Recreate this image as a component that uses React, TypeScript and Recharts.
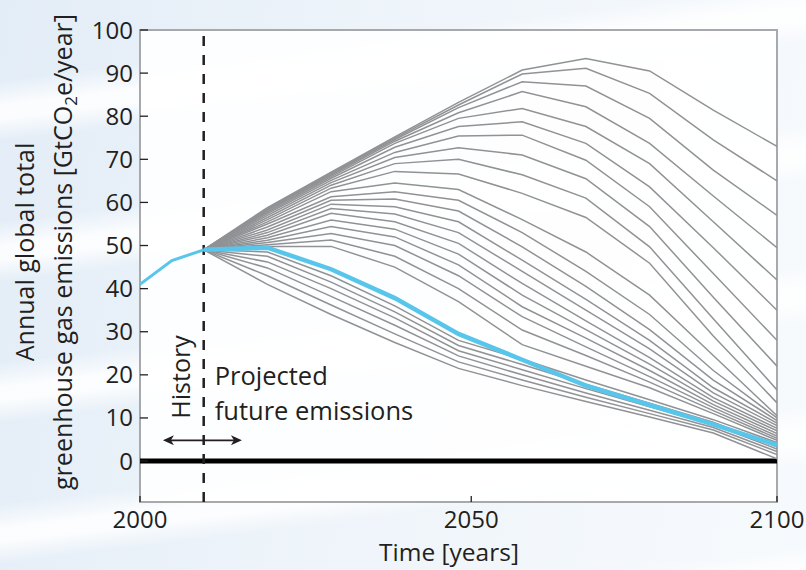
import React from 'react';
import { LineChart, Line, XAxis, YAxis, ReferenceLine, ReferenceArea } from 'recharts';

const historyYears = [2000, 2005, 2010];
const historyValues = [41, 46.5, 49];
const projectionYears = [2010, 2020, 2030, 2040, 2050, 2060, 2070, 2080, 2090, 2100];
const highlightedScenario = [49, 49.5, 44.5, 37.8, 29.5, 23.5, 17.5, 13, 8.5, 3.7];
const grayScenarios = [
  [49, 58.8, 67, 75.2, 83.2, 90.7, 93.4, 90.5, 81.4, 73],
  [49, 58.6, 66.8, 74.9, 82.6, 89.8, 91.1, 85.3, 74.5, 65],
  [49, 58.4, 66.6, 74.6, 82, 88, 87, 79.5, 67.5, 57],
  [49, 58.2, 66.3, 74.2, 80.8, 85.7, 82.2, 73.7, 61.5, 49.5],
  [49, 58, 66, 73.7, 79.5, 81.8, 77.6, 69, 55.5, 42],
  [49, 57.7, 65.6, 72.8, 77.6, 78.7, 73.7, 63.6, 49.5, 35],
  [49, 57.4, 65.1, 71.6, 75.4, 75.6, 69.8, 59, 43.5, 28],
  [49, 57, 64.6, 70.4, 72.7, 71, 65.5, 54.4, 38, 22],
  [49, 56.5, 64, 69, 70, 66.4, 61, 49.7, 33, 16.5],
  [49, 56, 63.3, 67.2, 66.6, 62.1, 56.5, 45.9, 29, 13.5],
  [49, 55.5, 62.5, 64.5, 63, 56, 48.5, 38.5, 24.5, 10.5],
  [49, 55, 61.3, 62.5, 60.5, 53, 44, 34, 21, 10],
  [49, 54.3, 60.5, 60.8, 58, 49.7, 40.5, 30.5, 18.8, 9.4],
  [49, 53.6, 59.6, 59, 55.5, 46.6, 37.5, 28, 17, 8.8],
  [49, 53, 58.6, 57.3, 53, 44, 35, 26, 15.8, 8.2],
  [49, 52.4, 57.5, 55.5, 50.5, 41.2, 32.5, 24, 14.7, 7.6],
  [49, 51.8, 55.9, 53.8, 48, 38.5, 30.5, 22.5, 13.9, 7],
  [49, 51.2, 54.4, 52, 45.5, 35.8, 28.5, 21, 13.1, 6.4],
  [49, 50.7, 52.8, 50, 43, 33.5, 26.5, 19.6, 12.4, 5.8],
  [49, 50.2, 51.3, 47.5, 40, 30.4, 24.5, 18.3, 11.7, 5.3],
  [49, 49.8, 49.8, 45, 37, 27, 22, 17, 11, 4.8],
  [49, 48.5, 43, 36, 28, 23.6, 18.8, 14.2, 9.6, 4.3],
  [49, 47.5, 41.5, 34.6, 26.8, 22.4, 17.8, 13.4, 9, 3.3],
  [49, 46.2, 40, 33.2, 25.6, 21.2, 16.8, 12.6, 8.4, 2.8],
  [49, 44.8, 38.2, 31.5, 24.4, 20, 15.8, 11.8, 7.8, 2.2],
  [49, 43, 36.2, 29.5, 23, 18.8, 14.8, 11, 7.2, 1.5],
  [49, 41, 34, 27.5, 21.5, 17.5, 13.8, 10.2, 6.5, 0.5],
];
const yTicks = [0, 10, 20, 30, 40, 50, 60, 70, 80, 90, 100];
const xTicks = [2000, 2052, 2100];
const xTickLabels = ['2000', '2050', '2100'];
const Y_MIN = -9.5;
const Y_MAX = 100;
const splitYear = 2010;
const arrowFrom = 2003.6;
const arrowTo = 2016;

const FONT = "'Open Sans', sans-serif";
const TEXT = '#231f20';
const GRAY = '#909295';
const BLUE = '#58c5ea';

const allYears = Array.from(new Set([...historyYears, ...projectionYears])).sort((a, b) => a - b);
const rows = allYears.map((year) => {
  const row: Record<string, number | undefined> = { year };
  const hi = historyYears.indexOf(year);
  if (hi >= 0) row.hist = historyValues[hi];
  const pi = projectionYears.indexOf(year);
  if (pi >= 0) {
    row.blue = highlightedScenario[pi];
    grayScenarios.forEach((s, k) => {
      row['s' + k] = s[pi];
    });
  }
  return row;
});

const Annotation = (props: any) => {
  const vb = props.viewBox || {};
  const x0 = vb.x;
  const top = vb.y;
  const h = vb.height;
  const yAt = (v: number) => top + ((Y_MAX - v) / (Y_MAX - Y_MIN)) * h;
  const pxPerYear = 6.37;
  const ax1 = x0 - (splitYear - arrowFrom) * pxPerYear;
  const ax2 = x0 + (arrowTo - splitYear) * pxPerYear;
  const ay = yAt(4.8);
  const hy = yAt(19.5);
  return (
    <g>
      <text
        x={x0 - 14}
        y={hy}
        transform={`rotate(-90, ${x0 - 14}, ${hy})`}
        textAnchor="middle"
        fontFamily={FONT}
        fontSize={25}
        fill={TEXT}
      >
        History
      </text>
      <text x={x0 + 11} y={yAt(17.6)} fontFamily={FONT} fontSize={25.5} fill={TEXT}>
        Projected
      </text>
      <text x={x0 + 11} y={yAt(9.5)} fontFamily={FONT} fontSize={25.5} fill={TEXT}>
        future emissions
      </text>
      <line x1={ax1 + 8} y1={ay} x2={ax2 - 8} y2={ay} stroke={TEXT} strokeWidth={1.6} />
      <polygon points={`${ax1},${ay} ${ax1 + 11},${ay - 5} ${ax1 + 8},${ay} ${ax1 + 11},${ay + 5}`} fill={TEXT} />
      <polygon points={`${ax2},${ay} ${ax2 - 11},${ay - 5} ${ax2 - 8},${ay} ${ax2 - 11},${ay + 5}`} fill={TEXT} />
    </g>
  );
};

const YTitle = (props: any) => {
  const vb = props.viewBox || {};
  const cy = vb.y + vb.height / 2 - 14;
  return (
    <g fontFamily={FONT} fontSize={25} fill={TEXT}>
      <text x={34} y={cy} transform={`rotate(-90, 34, ${cy})`} textAnchor="middle">
        Annual global total
      </text>
      <text x={72} y={cy} transform={`rotate(-90, 72, ${cy})`} textAnchor="middle">
        greenhouse gas emissions [GtCO
        <tspan fontSize={17} dy={5}>2</tspan>
        <tspan dy={-5}>e/year]</tspan>
      </text>
    </g>
  );
};

const XTitle = () => (
  <text x={449} y={561} textAnchor="middle" fontFamily={FONT} fontSize={24.5} fill={TEXT}>
    Time [years]
  </text>
);

export default function App() {
  return (
    <div
      style={{
        position: 'absolute',
        left: 0,
        top: 0,
        width: 806,
        height: 570,
        background:
          'repeating-linear-gradient(173deg, rgba(255,255,255,0) 0px, rgba(255,255,255,0) 80px, rgba(255,255,255,0.85) 105px, rgba(255,255,255,0.85) 118px, rgba(255,255,255,0) 140px), linear-gradient(100deg, #e3edf7 0%, #eef4fa 45%, #f7fafd 100%)',
      }}
    >
      <LineChart
        width={806}
        height={570}
        data={rows}
        margin={{ top: 30, right: 29, left: 0, bottom: 8 }}
      >
        <ReferenceArea
          x1={2000}
          x2={2100}
          y1={Y_MIN}
          y2={Y_MAX}
          fill="#ffffff"
          fillOpacity={0.88}
          stroke="#a7a9ac"
          strokeWidth={2}
          ifOverflow="visible"
        />
        <XAxis
          dataKey="year"
          type="number"
          domain={[2000, 2100]}
          ticks={xTicks}
          tickFormatter={(v: number) => xTickLabels[xTicks.indexOf(v)]}
          height={60}
          axisLine={false}
          tickSize={-6}
          tickMargin={15}
          tickLine={{ stroke: TEXT, strokeWidth: 1.3 }}
          tick={{ fill: TEXT, fontSize: 24, fontFamily: FONT }}
          label={<XTitle />}
          allowDataOverflow
        />
        <YAxis
          type="number"
          domain={[Y_MIN, Y_MAX]}
          ticks={yTicks}
          width={140}
          axisLine={false}
          tickSize={-8}
          tickMargin={15}
          tickLine={{ stroke: TEXT, strokeWidth: 1.3 }}
          tick={{ fill: TEXT, fontSize: 24, fontFamily: FONT }}
          label={<YTitle />}
          allowDataOverflow
        />
        <ReferenceLine y={0} stroke="#000" strokeWidth={5} ifOverflow="visible" />
        <ReferenceLine
          x={splitYear}
          stroke={TEXT}
          strokeWidth={2.5}
          strokeDasharray="10 9"
          label={<Annotation />}
        />
        {grayScenarios.map((_, k) => (
          <Line
            key={k}
            dataKey={'s' + k}
            stroke={GRAY}
            strokeWidth={1.5}
            dot={false}
            activeDot={false}
            isAnimationActive={false}
          />
        ))}
        <Line dataKey="hist" stroke={BLUE} strokeWidth={3} dot={false} activeDot={false} isAnimationActive={false} />
        <Line dataKey="blue" stroke={BLUE} strokeWidth={4.5} dot={false} activeDot={false} isAnimationActive={false} />
      </LineChart>
    </div>
  );
}
